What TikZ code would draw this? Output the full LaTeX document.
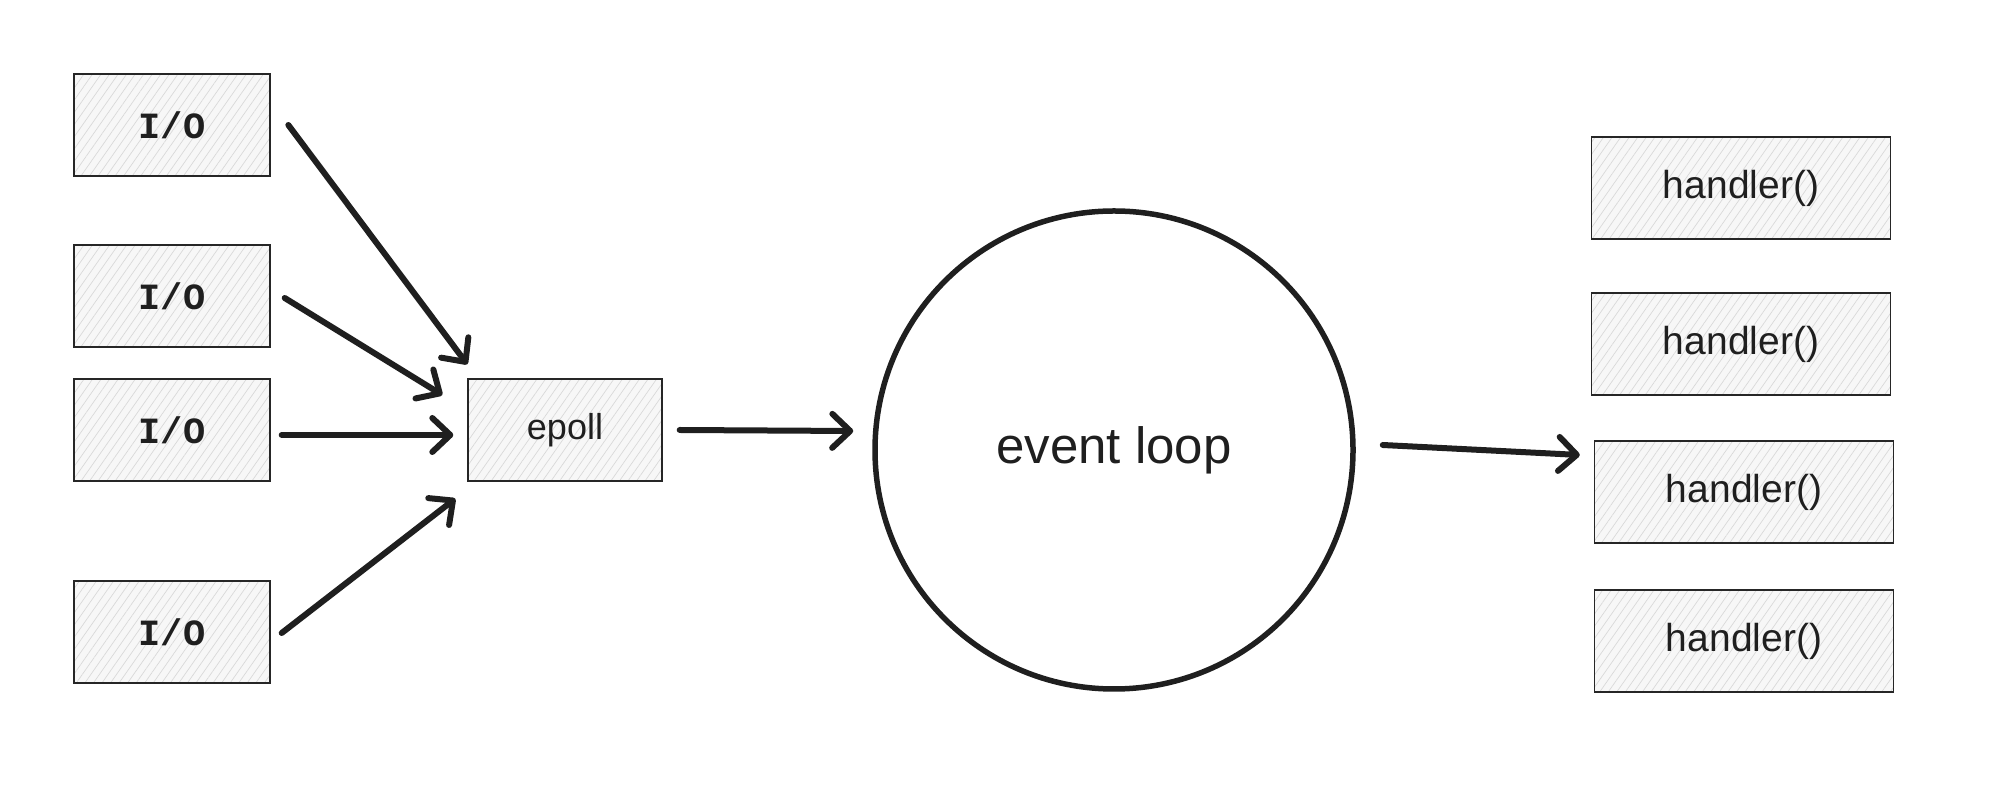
\documentclass[tikz,border=0pt]{standalone}
\usepackage{fontspec}
\setmainfont{Liberation Sans}
\setmonofont{Liberation Mono}
\usetikzlibrary{arrows.meta,patterns.meta}

\begin{document}
\begin{tikzpicture}[x=1pt,y=1pt,
  hbox/.style={draw=black!85,line width=1.4pt,preaction={fill=gray!6},
    pattern={Lines[angle=55,distance=7pt,line width=0.7pt]},pattern color=gray!30,
    minimum height=102pt,inner sep=0pt,text=black!88},
  iobox/.style={hbox,minimum width=196pt,font=\fontsize{37}{44}\selectfont\ttfamily\bfseries},
  hdbox/.style={hbox,minimum width=299pt,font=\fontsize{39}{46}\selectfont},
  arr/.style={draw=black!88,line width=6pt,line cap=round,-{Straight Barb[length=18pt,width=34pt,round]}}]
\useasboundingbox (0,0) rectangle (2004,792);
\node[iobox] (io1) at (172,667) {I/O};
\node[iobox] (io2) at (172,496) {I/O};
\node[iobox] (io3) at (172,362) {I/O};
\node[iobox] (io4) at (172,160) {I/O};
\node[hbox,minimum width=194pt,font=\fontsize{36}{42}\selectfont] (epoll) at (565,362) {epoll};
\node[circle,draw=black!88,line width=5.5pt,minimum size=478pt,inner sep=0pt,
  text=black!88,font=\fontsize{51}{60}\selectfont] (loop) at (1114,342) {event loop};
\node[hdbox] (h1) at (1741,604) {handler()};
\node[hdbox] (h2) at (1741,448) {handler()};
\node[hdbox] (h3) at (1744,300) {handler()};
\node[hdbox] (h4) at (1744,151) {handler()};
\draw[arr] ([shift={(18,0)}]io1.east) -- ([shift={(0,14)}]epoll.north west);
\draw[arr] ([shift={(14,-2)}]io2.east) -- ([shift={(-25,35)}]epoll.west);
\draw[arr] ([shift={(11,-5)}]io3.east) -- ([shift={(-14,-5)}]epoll.west);
\draw[arr] ([shift={(11,-1)}]io4.east) -- ([shift={(-12,-17)}]epoll.south west);
\draw[arr] ([shift={(17,0)}]epoll.east) -- ([shift={(-19,19)}]loop.west);
\draw[arr] ([shift={(27,5)}]loop.east) -- ([shift={(-14,37)}]h3.west);
\end{tikzpicture}
\end{document}
